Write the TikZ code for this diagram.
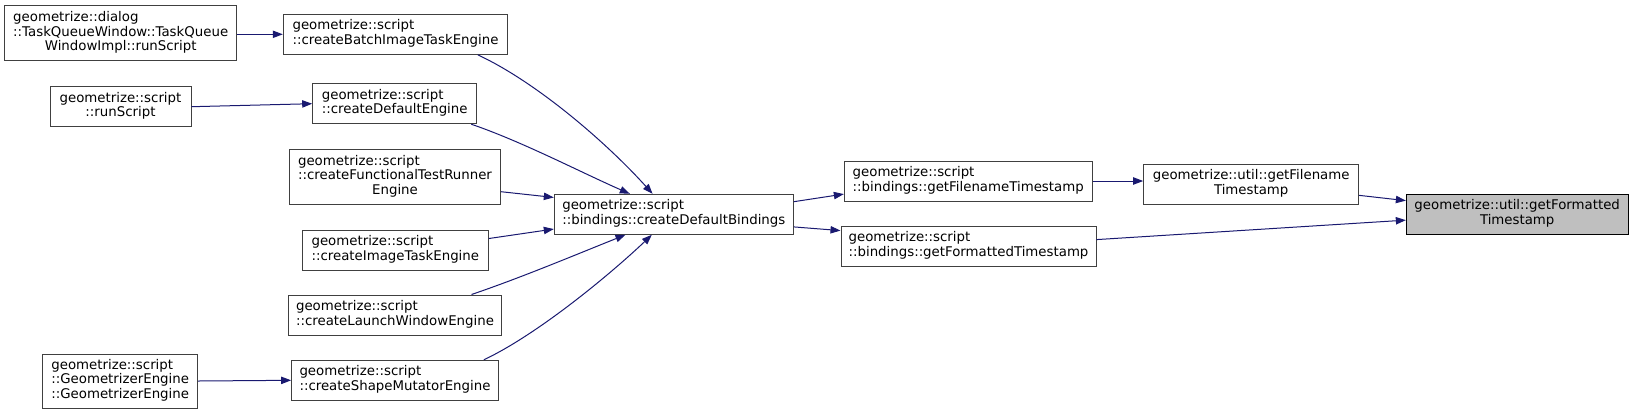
\documentclass[tikz,border=0pt]{standalone}
\usepackage{fontspec}
\setmainfont{DejaVu Sans}
\usetikzlibrary{arrows.meta}
\definecolor{callblue}{HTML}{191970}
\definecolor{boxline}{HTML}{404040}
\definecolor{selfill}{HTML}{BFBFBF}
\tikzset{
  fnbox/.style={draw=boxline, fill=white, line width=0.75pt, inner sep=0pt,
                minimum width=#1, minimum height=30pt, font=\fontsize{10}{11}\selectfont},
  fnsel/.style={fnbox=#1, draw=black, fill=selfill},
  call/.style={-{Triangle[length=7.5pt,width=5.5pt]}, line width=0.75pt, draw=callblue, color=callblue}
}
\newcommand{\fnlab}[2]{\begin{tabular}{@{}l@{}}#1\\\multicolumn{1}{@{}c@{}}{#2}\end{tabular}}

\begin{document}
\begin{tikzpicture}[x=0.75pt,y=-0.75pt]
  \useasboundingbox (0,0) rectangle (1633,415);

  \node[fnbox=174pt, minimum height=41.25pt] (dialog) at (120.7,33.2)
    {\fnlab{geometrize::dialog\\::TaskQueueWindow::TaskQueue}{WindowImpl::runScript}};
  \node[fnbox=105.75pt] (runscript) at (120.5,106.7)
    {\fnlab{geometrize::script}{::runScript}};
  \node[fnbox=116.25pt, minimum height=40.5pt] (geomengine) at (120.2,381)
    {\fnlab{geometrize::script\\::GeometrizerEngine}{::GeometrizerEngine}};

  \node[fnbox=168.3pt] (batch) at (395.5,34.3)
    {\fnlab{geometrize::script}{::createBatchImageTaskEngine}};
  \node[fnbox=123pt] (defengine) at (394.7,103.7)
    {\fnlab{geometrize::script}{::createDefaultEngine}};
  \node[fnbox=158.5pt, minimum height=41.25pt] (functional) at (395,176.8)
    {\fnlab{geometrize::script\\::createFunctionalTestRunner}{Engine}};
  \node[fnbox=139.5pt] (imagetask) at (395.3,250)
    {\fnlab{geometrize::script}{::createImageTaskEngine}};
  \node[fnbox=160pt] (launch) at (395,315)
    {\fnlab{geometrize::script}{::createLaunchWindowEngine}};
  \node[fnbox=155pt] (shape) at (395,380.3)
    {\fnlab{geometrize::script}{::createShapeMutatorEngine}};

  \node[fnbox=179.25pt] (bindings) at (673.8,214.3)
    {\fnlab{geometrize::script}{::bindings::createDefaultBindings}};
  \node[fnbox=185.8pt] (bfilename) at (968.2,181)
    {\fnlab{geometrize::script}{::bindings::getFilenameTimestamp}};
  \node[fnbox=191.25pt] (bformatted) at (968.5,246.3)
    {\fnlab{geometrize::script}{::bindings::getFormattedTimestamp}};
  \node[fnbox=161.25pt] (ufilename) at (1251.2,184)
    {\fnlab{geometrize::util::getFilename}{Timestamp}};
  \node[fnsel=166.3pt] (uformatted) at (1517.2,214.3)
    {\fnlab{geometrize::util::getFormatted}{Timestamp}};

  \draw[call] (dialog.east |- batch.west) -- (batch.west);
  \draw[call] (runscript.east) -- (defengine.west);
  \draw[call] (geomengine.east) -- (shape.west);

  \draw[call] (batch.-14.5) .. controls +(60,28) and +(-45,-50) .. (bindings.136);
  \draw[call] (defengine.-15.1) .. controls +(50,17) and +(-50,-22) .. (bindings.155.1);
  \draw[call] (functional.-8) -- (bindings.172.7);
  \draw[call] (imagetask.7.4) -- (bindings.187.5);
  \draw[call] (launch.15) .. controls +(50,-17) and +(-50,20) .. (bindings.203.3);
  \draw[call] (shape.13.4) .. controls +(55,-26) and +(-40,38) .. (bindings.223.4);

  \draw[call] (bindings.6.4) -- (bfilename.186.8);
  \draw[call] (bindings.-6.4) -- (bformatted.173.5);
  \draw[call] (bfilename.east) -- (ufilename.west |- bfilename.east);
  \draw[call] (ufilename.-6.7) -- (uformatted.173.5);
  \draw[call] (bformatted.3.9) -- (uformatted.183.5);
\end{tikzpicture}
\end{document}
